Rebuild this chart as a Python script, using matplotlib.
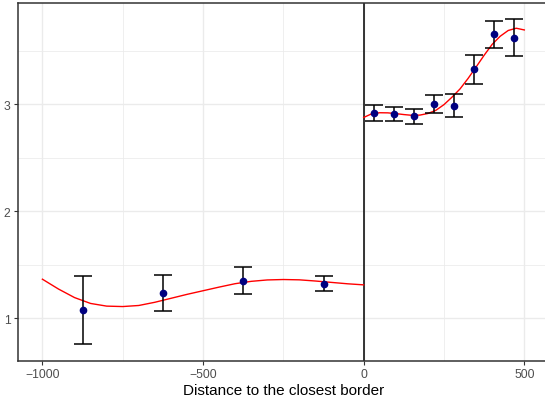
import matplotlib
matplotlib.use("Agg")
import matplotlib.pyplot as plt
from matplotlib.ticker import MultipleLocator

plt.rcParams['font.family'] = ['Liberation Sans', 'DejaVu Sans']

# binned means with error bars
bin_x = [-875, -625, -375, -125, 31.25, 93.75, 156.25, 218.75, 281.25, 343.75, 406.25, 468.75]
bin_y = [1.075, 1.236, 1.351, 1.321, 2.919, 2.909, 2.891, 3.003, 2.987, 3.330, 3.657, 3.623]
bin_lo = [0.753, 1.065, 1.230, 1.252, 2.841, 2.847, 2.816, 2.916, 2.881, 3.193, 3.526, 3.449]
bin_hi = [1.398, 1.407, 1.479, 1.398, 2.994, 2.975, 2.959, 3.087, 3.093, 3.464, 3.785, 3.797]

# fitted curve, left of the border
fit_left_x = [-1000, -950, -900, -850, -800, -750, -700, -650, -600, -550, -500,
              -450, -400, -350, -300, -250, -200, -150, -100, -50, 0]
fit_left_y = [1.364, 1.272, 1.192, 1.137, 1.112, 1.108, 1.118, 1.148, 1.185, 1.222, 1.256,
              1.290, 1.322, 1.344, 1.357, 1.361, 1.358, 1.347, 1.334, 1.321, 1.311]

# fitted curve, right of the border
fit_right_x = [0, 25, 50, 75, 100, 125, 150, 175, 200, 225, 250,
               275, 300, 325, 350, 375, 400, 425, 450, 475, 500]
fit_right_y = [2.878, 2.912, 2.922, 2.921, 2.914, 2.905, 2.898, 2.900, 2.915, 2.945, 2.998,
               3.068, 3.145, 3.243, 3.350, 3.460, 3.562, 3.638, 3.692, 3.713, 3.697]

fig = plt.figure(figsize=(5.45, 4.02), dpi=100)
ax = fig.add_axes([0.0336, 0.1002, 0.9726, 0.8898])

ax.set_xlim(-1075, 575)
ax.set_ylim(0.601, 3.949)

ax.xaxis.set_major_locator(MultipleLocator(500))
ax.xaxis.set_minor_locator(MultipleLocator(250))
ax.yaxis.set_major_locator(MultipleLocator(1))
ax.yaxis.set_minor_locator(MultipleLocator(0.5))
ax.grid(True, which='major', color='#EBEBEB', linewidth=1.0)
ax.grid(True, which='minor', color='#EBEBEB', linewidth=0.55)
ax.set_axisbelow(True)

for s in ax.spines.values():
    s.set_color('#333333')
    s.set_linewidth(1.1)

ax.tick_params(which='major', length=3, width=0.8, color='#333333',
               labelsize=8.7, labelcolor='#4D4D4D', pad=2.5)
ax.tick_params(which='minor', length=0)

ax.axvline(0, color='black', linewidth=1.1, zorder=2)

ax.plot(fit_left_x, fit_left_y, color='red', linewidth=1.0, zorder=3)
ax.plot(fit_right_x, fit_right_y, color='red', linewidth=1.0, zorder=3)

yerr = [[y - lo for y, lo in zip(bin_y, bin_lo)], [hi - y for y, hi in zip(bin_y, bin_hi)]]
ax.errorbar(bin_x, bin_y, yerr=yerr, fmt='none', ecolor='black',
            elinewidth=1.1, capsize=6.4, capthick=1.1, zorder=4)
ax.plot(bin_x, bin_y, 'o', color='#000080', markersize=4.5, zorder=5)

ax.set_xlabel('Distance to the closest border', fontsize=11, color='black', labelpad=2)

fig.savefig('out.png', dpi=100)
